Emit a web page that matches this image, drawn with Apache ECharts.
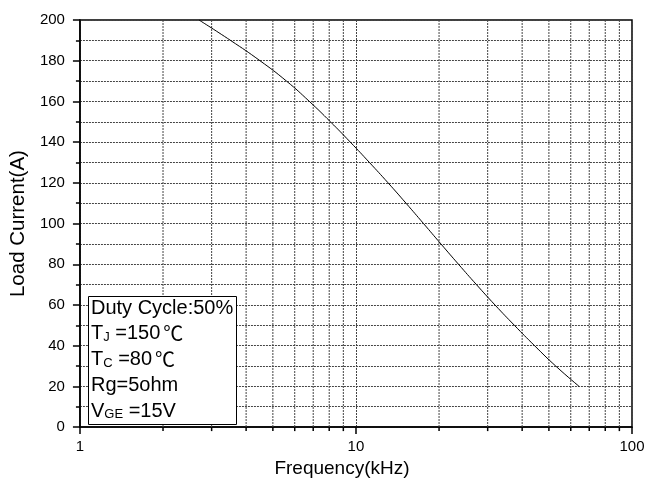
<!DOCTYPE html>
<html>
<head>
<meta charset="utf-8">
<script src="https://cdn.jsdelivr.net/npm/echarts@6/dist/echarts.min.js"></script>
<style>
  html, body { margin: 0; padding: 0; background: #fff; }
  #chart { width: 655px; height: 483px; }
</style>
</head>
<body>
<div id="chart"></div>
<script>
// Load current derating vs. switching frequency
const frequencyKHz = [2.7, 3.51, 4.49, 5.6, 6.78, 8.08, 9.54, 11.19, 13.07, 15.18, 17.57, 20.31, 23.52, 27.32, 31.89, 37.5, 44.36, 52.92, 64.33];
const loadCurrentA = [200, 190, 180, 170, 160, 150, 140, 130, 120, 110, 100, 90, 80, 70, 60, 50, 40, 30, 20];

// Minor decade positions for the log grid
const xMinorTicks = [2, 3, 4, 5, 6, 7, 8, 9, 20, 30, 40, 50, 60, 70, 80, 90];
const xMajorLabels = [1, 10, 100];

const conditionLines = [
  'Duty Cycle:50%',
  'T{s|J} =150{c|℃}',
  'T{s|C} =80{c|℃}',
  'Rg=5ohm',
  'V{s|GE} =15V'
];

const FONT = '"Liberation Sans", Arial, sans-serif';
const gridDash = [2, 1];
const gridColor = '#444';

const curve = frequencyKHz.map((f, i) => [f, loadCurrentA[i]]);
const minorData = xMinorTicks.map(v => [v, 0]);

const chart = echarts.init(document.getElementById('chart'), null, { renderer: 'canvas' });

const textLines = conditionLines.map((t, i) => ({
  type: 'text',
  left: 91,
  top: 298 + i * 25.8,
  z: 101,
  style: {
    text: t,
    font: '20px ' + FONT,
    fill: '#000',
    rich: {
      s: { fontSize: 13, fontFamily: FONT, fill: '#000', verticalAlign: 'bottom', lineHeight: 14 },
      c: { fontSize: 20, fontFamily: '"Noto Sans CJK SC", sans-serif', fill: '#000', padding: [0, 0, 0, 3] }
    }
  }
}));

chart.setOption({
  animation: false,
  backgroundColor: '#fff',
  grid: {
    left: 79, right: 23, top: 20, bottom: 53,
    show: true, borderColor: '#000', borderWidth: 1.5, backgroundColor: 'transparent'
  },
  xAxis: {
    type: 'log',
    logBase: 10,
    min: 1,
    max: 100,
    name: 'Frequency(kHz)',
    nameLocation: 'middle',
    nameGap: 26,
    nameTextStyle: { fontFamily: FONT, fontSize: 19, color: '#000', padding: [0, 28, 0, 0] },
    axisLine: { show: true, lineStyle: { color: '#000', width: 1.5 } },
    axisTick: { show: true, inside: false, length: 7, lineStyle: { color: '#000', width: 1.5 } },
    axisLabel: {
      fontFamily: FONT, fontSize: 15, color: '#000', margin: 12,
      formatter: v => (xMajorLabels.indexOf(Math.round(v)) >= 0 ? String(Math.round(v)) : '')
    },
    splitLine: { show: true, lineStyle: { color: gridColor, type: gridDash, width: 1 } }
  },
  yAxis: {
    type: 'value',
    min: 0,
    max: 200,
    interval: 20,
    name: 'Load Current(A)',
    nameLocation: 'middle',
    nameGap: 46,
    nameTextStyle: { fontFamily: FONT, fontSize: 20.5, color: '#000' },
    axisLine: { show: true, lineStyle: { color: '#000', width: 1.5 } },
    axisTick: { show: true, inside: false, length: 7, lineStyle: { color: '#000', width: 1.5 } },
    minorTick: { show: true, splitNumber: 2, length: 4, lineStyle: { color: '#000', width: 1.5 } },
    axisLabel: { fontFamily: FONT, fontSize: 15, color: '#000', margin: 15 },
    splitLine: { show: true, lineStyle: { color: gridColor, type: gridDash, width: 1 } },
    minorSplitLine: { show: true, lineStyle: { color: gridColor, type: gridDash, width: 1 } }
  },
  series: [
    {
      // log-spaced vertical grid lines and bottom minor ticks
      type: 'custom',
      clip: false,
      silent: true,
      z: 1,
      data: minorData,
      encode: { x: 0, y: 1 },
      renderItem: (params, api) => {
        const v = api.value(0);
        const bottom = api.coord([v, 0]);
        const top = api.coord([v, 200]);
        return {
          type: 'group',
          children: [
            {
              type: 'line',
              shape: { x1: bottom[0], y1: top[1], x2: bottom[0], y2: bottom[1] },
              style: { stroke: gridColor, lineWidth: 1, lineDash: gridDash }
            },
            {
              type: 'line',
              shape: { x1: bottom[0], y1: bottom[1], x2: bottom[0], y2: bottom[1] + 4 },
              style: { stroke: '#000', lineWidth: 1.5 }
            }
          ]
        };
      }
    },
    {
      type: 'line',
      data: curve,
      smooth: 0.5,
      showSymbol: false,
      symbol: 'none',
      z: 5,
      lineStyle: { color: '#000', width: 1 }
    }
  ],
  graphic: [
    {
      type: 'rect',
      left: 88,
      top: 296,
      z: 100,
      shape: { width: 148, height: 128 },
      style: { fill: '#fff', stroke: '#000', lineWidth: 1 }
    }
  ].concat(textLines)
});
</script>
</body>
</html>
